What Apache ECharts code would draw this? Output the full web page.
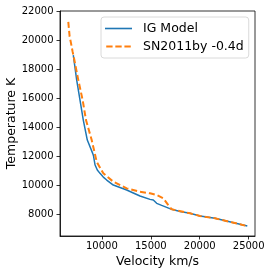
<!DOCTYPE html>
<html>
<head>
<meta charset="utf-8">
<script src="https://cdn.jsdelivr.net/npm/echarts@6/dist/echarts.min.js"></script>
<style>html,body{margin:0;padding:0;background:#fff;}#c{width:274px;height:274px;}</style>
</head>
<body>
<div id="c"></div>
<script>
// IG Model (blue)
const igVelocity = [7078, 7426, 7763, 8100, 8510, 9060, 9150, 9296, 9531, 9807, 10144, 10492, 11167, 11851, 12535, 13210, 13895, 14917, 15254, 15600, 16110, 16624, 17135, 17983, 19005, 20027, 21560, 23260, 24860];
const igTemperature = [18966, 17241, 15862, 14483, 13103, 12186, 12000, 11400, 11034, 10806, 10550, 10345, 10000, 9828, 9655, 9450, 9241, 9010, 8966, 8738, 8600, 8462, 8324, 8172, 8048, 7862, 7703, 7427, 7172];
// SN2011by -0.4d (orange dashed)
const snVelocity = [6567, 6700, 6843, 6997, 7150, 7590, 8034, 8376, 8958, 9470, 10144, 11167, 12535, 13895, 14917, 15600, 16276, 16787, 17135, 19005, 20027, 21560, 23260, 24650];
const snTemperature = [21262, 20270, 19793, 19241, 18759, 17241, 15862, 14483, 13103, 11607, 10806, 10228, 9770, 9540, 9428, 9310, 9080, 8620, 8324, 8048, 7862, 7703, 7427, 7200];
const xTicks = [10000, 15000, 20000, 25000];
const yTicks = [8000, 10000, 12000, 14000, 16000, 18000, 20000, 22000];
const seriesNames = ['IG Model', 'SN2011by -0.4d'];

const zip = (a, b) => a.map((v, i) => [v, b[i]]);
const chart = echarts.init(document.getElementById('c'), null, {renderer: 'canvas'});
const font = 'DejaVu Sans';
chart.setOption({
  animation: false,
  textStyle: {fontFamily: font},
  grid: {left: 60, right: 19, top: 11, bottom: 38, containLabel: false, outerBoundsMode: 'none',
         show: true, borderColor: '#000', borderWidth: 0.8, backgroundColor: 'transparent'},
  xAxis: {
    type: 'value', min: 5719, max: 25647,
    name: 'Velocity km/s', nameLocation: 'middle', nameGap: 19, nameMoveOverlap: false,
    nameTextStyle: {fontSize: 12.5, color: '#000', fontFamily: font},
    axisLine: {show: true, lineStyle: {color: '#000', width: 0.8}},
    axisTick: {show: true, inside: false, length: 3.5, lineStyle: {color: '#000', width: 0.8}, customValues: xTicks},
    axisLabel: {fontSize: 10, color: '#000', margin: 5, fontFamily: font, customValues: xTicks, formatter: v => String(v)},
    splitLine: {show: false}
  },
  yAxis: {
    type: 'value', min: 6483, max: 22010,
    name: 'Temperature K', nameLocation: 'middle', nameGap: 42, nameMoveOverlap: false,
    nameTextStyle: {fontSize: 12.5, color: '#000', fontFamily: font},
    axisLine: {show: true, lineStyle: {color: '#000', width: 0.8}},
    axisTick: {show: true, inside: false, length: 3.5, lineStyle: {color: '#000', width: 0.8}, customValues: yTicks},
    axisLabel: {fontSize: 10, color: '#000', margin: 6.5, fontFamily: font, customValues: yTicks, formatter: v => String(v)},
    splitLine: {show: false}
  },
  legend: {
    orient: 'vertical', left: 101, top: 17,
    padding: [5, 5, 5, 4], itemGap: 5, itemWidth: 27, itemHeight: 2,
    backgroundColor: 'rgba(255,255,255,0.8)', borderColor: '#d0d0d0', borderWidth: 0.8, borderRadius: 3,
    textStyle: {fontSize: 12.5, color: '#000', fontFamily: font, padding: [0, 0, 0, 6]},
    data: [
      {name: seriesNames[0], icon: 'path://M0,0h27v1.6h-27z', itemStyle: {color: '#1f77b4'}},
      {name: seriesNames[1], icon: 'path://M0,0h7v2.2h-7zM10,0h7v2.2h-7zM20,0h7v2.2h-7z', itemStyle: {color: '#ff7f0e'}}
    ]
  },
  series: [
    {name: seriesNames[0], type: 'line', data: zip(igVelocity, igTemperature), showSymbol: false, symbol: 'none',
     lineStyle: {color: '#1f77b4', width: 1.5}, itemStyle: {color: '#1f77b4'}},
    {name: seriesNames[1], type: 'line', data: zip(snVelocity, snTemperature), showSymbol: false, symbol: 'none',
     lineStyle: {color: '#ff7f0e', width: 2, type: [6, 3]}, itemStyle: {color: '#ff7f0e'}}
  ]
});
</script>
</body>
</html>
